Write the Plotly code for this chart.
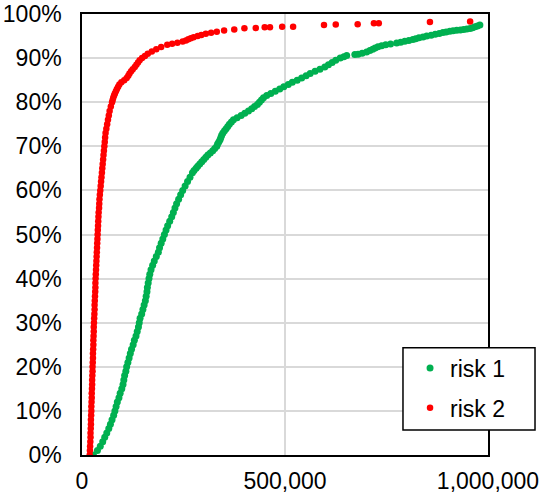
import plotly.graph_objects as go

# Cumulative share of outcomes (%) against loss amount
risk1_share = [0, 1, 2, 3, 4, 5, 6, 7, 8, 9, 10, 11, 12, 13, 14, 15, 16, 17, 18, 19,
               20, 21, 22, 23, 24, 25, 26, 27, 28, 29, 30, 31, 32, 33, 34, 35, 36, 37, 38, 39,
               40, 41, 42, 43, 44, 45, 46, 47, 48, 49, 50, 51, 52, 53, 54, 55, 56, 57, 58, 59,
               60, 61, 62, 63, 64, 64.5, 65, 65.5, 66, 66.5, 67, 67.5, 68, 68.5, 69, 69.5,
               70, 70.5, 71, 71.5, 72, 72.5, 73, 73.5, 74, 74.5, 75, 75.5, 76, 76.5, 77, 77.5,
               78, 78.5, 79, 79.5, 80, 80.5, 81, 81.5, 82, 82.5, 83, 83.5, 84, 84.5, 85, 85.5,
               86, 86.5, 87, 87.5, 88, 88.5, 89, 89.5, 90, 90.3, 90.6, 90.8, 90.9, 91.1, 91.4,
               91.7, 92, 92.3, 92.6, 92.8, 93, 93.2, 93.4, 93.6, 93.8, 94, 94.2, 94.4, 94.6,
               94.8, 95, 95.2, 95.4, 95.6, 95.8, 95.9, 96.1, 96.2, 96.3, 96.4, 96.5, 96.6,
               96.7, 96.9, 97.1, 97.3, 97.5]
risk1_value = [28000, 38000, 45000, 51000, 56000, 61000, 66000, 70000, 74000, 78000,
               81000, 84000, 87000, 91000, 94000, 98000, 101000, 103000, 105000, 108000,
               110000, 113000, 116000, 119000, 122000, 126000, 129000, 133000, 136000, 139000,
               141000, 143000, 147000, 150000, 153000, 156000, 158000, 160000, 161000, 163000,
               165000, 167000, 170000, 174000, 178000, 183000, 188000, 191000, 195000, 199000,
               203000, 207000, 211000, 216000, 221000, 225000, 229000, 233000, 238000, 243000,
               248000, 254000, 260000, 266000, 272000, 276000, 281000, 285000, 290000, 295000,
               300000, 305000, 310000, 316000, 322000, 327000, 332000, 334000, 337000, 340000,
               342000, 344000, 347000, 351000, 355000, 359000, 363000, 368000, 373000, 382000,
               392000, 401000, 410000, 418000, 425000, 432000, 437000, 442000, 447000, 455000,
               465000, 476000, 487000, 497000, 508000, 518000, 530000, 541000, 552000, 562000,
               574000, 586000, 598000, 607000, 616000, 625000, 636000, 645000, 652000, 672000,
               680000, 690000, 701000, 709000, 716000, 722000, 729000, 738000, 748000, 760000,
               775000, 785000, 795000, 805000, 815000, 822000, 830000, 840000, 849000, 860000,
               870000, 880000, 889000, 897000, 906000, 914000, 923000, 932000, 940000, 948000,
               956000, 962000, 968000, 974000, 980000]

risk2_share = [0, 1, 2, 3, 4, 5, 6, 7, 8, 9, 10, 11, 12, 13, 14, 15, 16, 17, 18, 19,
               20, 21, 22, 23, 24, 25, 26, 27, 28, 29, 30, 31, 32, 33, 34, 35, 36, 37, 38, 39,
               40, 41, 42, 43, 44, 45, 46, 47, 48, 49, 50, 51, 52, 53, 54, 55, 56, 57, 58, 59,
               60, 61, 62, 63, 64, 65, 66, 67, 68, 69, 70, 71, 72, 73, 74, 75, 76, 77, 78, 79,
               80, 80.5, 81, 81.5, 82, 82.5, 83, 83.5, 84, 84.5, 85, 85.5, 86, 86.5, 87, 87.5,
               88, 88.5, 89, 89.5, 90, 90.5, 91, 91.5, 92, 92.5, 93, 93.25, 93.5, 93.75, 94,
               94.25, 94.5, 94.75, 95, 95.25, 95.5, 95.75, 96, 96.25, 96.5, 96.75, 96.8, 97.0,
               97.0, 97.1, 97.1, 97.5, 97.6, 97.7, 97.9, 97.9, 98.2, 98.3]
risk2_value = [19000, 19500, 20000, 20500, 21000, 21000, 21500, 22000, 22000, 22500,
               23000, 23000, 23500, 24000, 24000, 24500, 25000, 25000, 25500, 26000,
               26000, 26500, 27000, 27000, 27500, 28000, 28000, 28500, 29000, 29000,
               29500, 30000, 30500, 31000, 31000, 31500, 32000, 32500, 33000, 33000,
               33500, 34000, 34500, 35000, 35500, 36000, 36500, 37000, 37500, 38000,
               38500, 39000, 39500, 40000, 40500, 41000, 42000, 42500, 43000, 44000,
               45000, 46000, 47000, 48000, 49000, 50000, 51000, 52000, 53000, 54000,
               55000, 56000, 57000, 58000, 60000, 62000, 64000, 66000, 68000, 71000,
               74000, 75500, 77000, 79000, 81000, 83500, 86000, 89000, 92000, 97000,
               104000, 110000, 114000, 117000, 121000, 125000, 130000, 134000, 138000, 142000,
               148000, 155000, 162000, 172000, 183000, 195000, 210000, 222000, 235000, 248000,
               256000, 262000, 268000, 275000, 285000, 294000, 305000, 318000, 332000, 350000,
               375000, 400000, 428000, 450000, 463000, 493000, 520000, 596000, 625000, 679000,
               719000, 731000, 857000, 956000]

x_ticks = [0, 500000, 1000000]
x_tick_labels = ["0", "500,000", "1,000,000"]
y_ticks = [0, 10, 20, 30, 40, 50, 60, 70, 80, 90, 100]
y_tick_labels = [f"{v}%" for v in y_ticks]

FONT = "Liberation Sans, Arial, sans-serif"
GREEN = "#00b050"
RED = "#ff0000"
GRID = "#d9d9d9"

fig = go.Figure()
fig.add_trace(go.Scatter(
    x=risk1_value, y=risk1_share, mode="markers", name="risk 1",
    legendgroup="g1",
    marker=dict(color=GREEN, size=7, line=dict(width=0)),
))
fig.add_trace(go.Scatter(
    x=risk2_value, y=risk2_share, mode="markers", name="risk 2",
    legendgroup="g2",
    marker=dict(color=RED, size=6.5, line=dict(width=0)),
))

# White framed box that holds the legend entries
fig.add_shape(type="rect", xref="paper", yref="paper",
              x0=0.7906, x1=1.1158, y0=0.0567, y1=0.2433,
              line=dict(color="black", width=1.5), fillcolor="white", layer="above")

fig.update_layout(
    width=539, height=498,
    margin=dict(l=82, r=51, t=14, b=43, autoexpand=False),
    paper_bgcolor="white", plot_bgcolor="white",
    font=dict(family=FONT, size=23, color="black"),
    showlegend=True,
    legend=dict(x=0.808, y=0.246, xanchor="left", yanchor="top",
                bgcolor="rgba(0,0,0,0)", borderwidth=0,
                tracegroupgap=7, font=dict(size=23, family=FONT)),
    xaxis=dict(range=[0, 1000000], tickvals=x_ticks, ticktext=x_tick_labels,
               showgrid=True, gridcolor=GRID, gridwidth=1.5,
               showline=True, linecolor="black", linewidth=1.5, mirror=True,
               ticks="outside", ticklen=5, tickcolor="rgba(0,0,0,0)",
               ticklabeloverflow="allow",
               zeroline=False, automargin=False),
    yaxis=dict(range=[0, 100], tickvals=y_ticks, ticktext=y_tick_labels,
               showgrid=True, gridcolor=GRID, gridwidth=1.5,
               showline=True, linecolor="black", linewidth=1.5, mirror=True,
               ticks="outside", ticklen=14, tickcolor="rgba(0,0,0,0)",
               zeroline=False, automargin=False),
)

fig.write_html("out.html")
